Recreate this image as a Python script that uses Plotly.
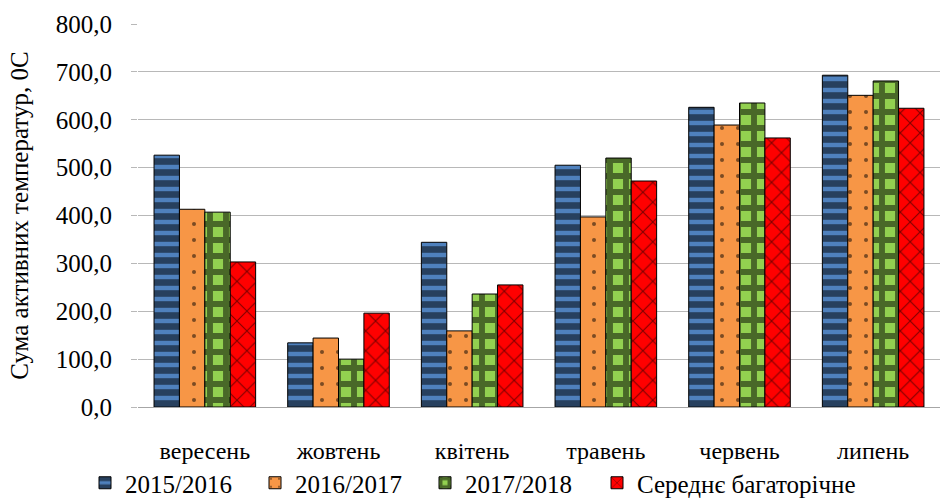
import plotly.graph_objects as go

months = ["вересень", "жовтень", "квітень", "травень", "червень", "липень"]
s2015_2016 = [526, 134, 344, 505, 626, 693]
s2016_2017 = [413, 144, 159, 397, 589, 651]
s2017_2018 = [407, 100, 236, 520, 635, 681]
avg_multi = [303, 196, 255, 472, 562, 624]

series = [
    ("2015/2016", s2015_2016, dict(shape="-", bgcolor="#4f81bd", fgcolor="black", size=11, solidity=0.6)),
    ("2016/2017", s2016_2017, dict(shape=".", bgcolor="#f79646", fgcolor="black", size=16, solidity=0.05)),
    ("2017/2018", s2017_2018, dict(shape="+", bgcolor="#92d050", fgcolor="black", size=16, solidity=0.6)),
    ("Середнє багаторічне", avg_multi, dict(shape="x", bgcolor="#ff0000", fgcolor="black", size=14, solidity=0.15)),
]

# left edge (px) of each legend entry along the bottom row
legend_x_px = [85, 255, 425, 597]

font_family = "Liberation Serif, Times New Roman, serif"
W, H = 945, 499

fig = go.Figure()
legend_layouts = {}
for i, (name, vals, pat) in enumerate(series):
    key = "legend" if i == 0 else f"legend{i + 1}"
    fig.add_trace(go.Bar(
        x=months, y=vals, name=name, legend=key,
        marker=dict(color=pat["bgcolor"], pattern=pat,
                    line=dict(color="black", width=1)),
    ))
    legend_layouts[key] = dict(
        orientation="h", xref="container", yref="container",
        x=legend_x_px[i] / W, xanchor="left",
        y=1 - 483 / H, yanchor="middle",
        font=dict(size=25), itemwidth=30, bgcolor="rgba(0,0,0,0)",
    )

fig.update_layout(
    width=W, height=H,
    margin=dict(l=138, r=5, t=24, b=92),
    paper_bgcolor="white", plot_bgcolor="white",
    barmode="group", bargap=0.24, bargroupgap=0,
    separators=", ",
    font=dict(family=font_family, size=24, color="black"),
    showlegend=True,
    xaxis=dict(showgrid=False, showline=True, linecolor="#a6a6a6", linewidth=1,
               ticks="", ticklabelstandoff=22, tickfont=dict(size=24),
               automargin=False),
    yaxis=dict(range=[0, 800], dtick=100, tickformat=".1f",
               showgrid=True, gridcolor="#b8b8b8", gridwidth=1,
               ticks="outside", ticklen=6, tickcolor="#b8b8b8",
               ticklabelstandoff=14, automargin=False,
               showline=False, zeroline=False,
               title=dict(text="Сума активних температур, 0С", font=dict(size=25), standoff=20),
               tickfont=dict(size=25)),
    **legend_layouts,
)

fig.write_html("out.html")
